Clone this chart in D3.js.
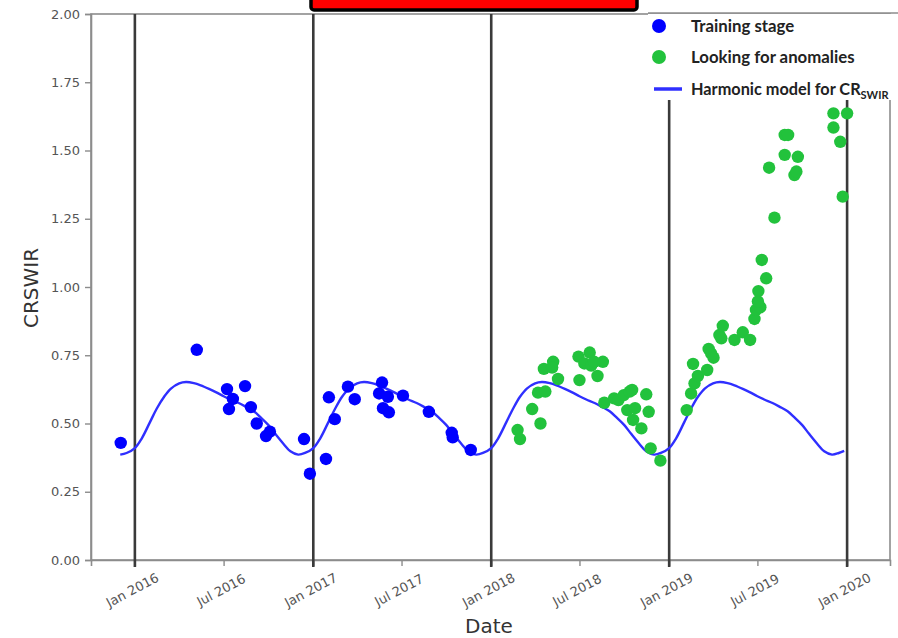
<!DOCTYPE html>
<html>
<head>
<meta charset="utf-8">
<script src="https://cdn.jsdelivr.net/npm/d3@7"></script>
<style>
  html, body { margin: 0; padding: 0; background: #fff; }
  svg { display: block; }
</style>
</head>
<body>
<svg id="chart" width="898" height="638"></svg>
<script>
// Training-stage observations (date, CRSWIR)
const trainingDates = [
  "2015-12-03", "2016-05-07", "2016-07-08", "2016-08-14", "2016-07-20", "2016-07-12",
  "2016-08-26", "2016-09-07", "2016-10-04", "2016-09-26", "2016-12-13", "2016-12-25",
  "2017-01-27", "2017-02-14", "2017-02-02", "2017-03-13", "2017-03-27", "2017-05-22",
  "2017-05-16", "2017-06-03", "2017-05-24", "2017-06-05", "2017-07-04", "2017-08-26",
  "2017-10-12", "2017-10-14", "2017-11-20"
];
const trainingValues = [
  0.429, 0.770, 0.626, 0.637, 0.590, 0.553,
  0.560, 0.500, 0.470, 0.454, 0.443, 0.316,
  0.370, 0.516, 0.596, 0.635, 0.589, 0.650,
  0.610, 0.598, 0.556, 0.541, 0.602, 0.543,
  0.466, 0.449, 0.403
];

// Observations checked for anomalies
const anomalyDates = [
  "2018-02-24", "2018-03-01", "2018-03-26", "2018-04-12", "2018-04-07", "2018-04-22",
  "2018-04-19", "2018-05-08", "2018-05-06", "2018-05-18", "2018-06-29", "2018-07-22",
  "2018-07-01", "2018-07-11", "2018-07-25", "2018-08-07", "2018-08-18", "2018-07-31",
  "2018-08-21", "2018-09-10", "2018-09-19", "2018-09-30", "2018-10-12", "2018-10-17",
  "2018-11-15", "2018-10-07", "2018-10-23", "2018-11-20", "2018-10-19", "2018-11-05",
  "2018-11-24", "2018-12-14",
  "2019-02-06", "2019-02-15", "2019-02-22", "2019-03-01", "2019-02-19", "2019-03-20",
  "2019-03-23", "2019-03-28", "2019-04-02", "2019-04-14", "2019-04-21", "2019-04-18",
  "2019-05-15", "2019-06-01", "2019-06-16", "2019-06-25", "2019-06-28", "2019-07-07",
  "2019-07-02", "2019-07-03", "2019-07-19", "2019-07-10", "2019-08-05", "2019-07-25",
  "2019-08-26", "2019-09-22", "2019-08-26", "2019-09-02", "2019-09-15", "2019-09-19",
  "2019-12-04", "2020-01-01", "2019-12-04", "2019-12-18", "2019-12-23"
];
const anomalyValues = [
  0.476, 0.443, 0.553, 0.500, 0.613, 0.617,
  0.700, 0.726, 0.705, 0.663, 0.745, 0.760,
  0.659, 0.720, 0.712, 0.674, 0.726, 0.726,
  0.576, 0.592, 0.586, 0.604, 0.617, 0.623,
  0.607, 0.549, 0.556, 0.543, 0.513, 0.482,
  0.409, 0.364,
  0.549, 0.610, 0.647, 0.674, 0.718, 0.696,
  0.773, 0.757, 0.741, 0.824, 0.858, 0.812,
  0.806, 0.834, 0.806, 0.883, 0.916, 0.926,
  0.947, 0.985, 1.032, 1.099, 1.254, 1.437,
  1.484, 1.477, 1.557, 1.557, 1.410, 1.423,
  1.636, 1.636, 1.584, 1.532, 1.331
];

// Fitted harmonic model for CR_SWIR, sampled twice a month
const harmonicDates = [
  "2015-12-02", "2015-12-15",
  "2016-01-01", "2016-01-15", "2016-02-01", "2016-02-15", "2016-03-01", "2016-03-15",
  "2016-04-01", "2016-04-15", "2016-05-01", "2016-05-15", "2016-06-01", "2016-06-15",
  "2016-07-01", "2016-07-15", "2016-08-01", "2016-08-15", "2016-09-01", "2016-09-15",
  "2016-10-01", "2016-10-15", "2016-11-01", "2016-11-15", "2016-12-01", "2016-12-15",
  "2017-01-01", "2017-01-15", "2017-02-01", "2017-02-15", "2017-03-01", "2017-03-15",
  "2017-04-01", "2017-04-15", "2017-05-01", "2017-05-15", "2017-06-01", "2017-06-15",
  "2017-07-01", "2017-07-15", "2017-08-01", "2017-08-15", "2017-09-01", "2017-09-15",
  "2017-10-01", "2017-10-15", "2017-11-01", "2017-11-15", "2017-12-01", "2017-12-15",
  "2018-01-01", "2018-01-15", "2018-02-01", "2018-02-15", "2018-03-01", "2018-03-15",
  "2018-04-01", "2018-04-15", "2018-05-01", "2018-05-15", "2018-06-01", "2018-06-15",
  "2018-07-01", "2018-07-15", "2018-08-01", "2018-08-15", "2018-09-01", "2018-09-15",
  "2018-10-01", "2018-10-15", "2018-11-01", "2018-11-15", "2018-12-01", "2018-12-15",
  "2019-01-01", "2019-01-15", "2019-02-01", "2019-02-15", "2019-03-01", "2019-03-15",
  "2019-04-01", "2019-04-15", "2019-05-01", "2019-05-15", "2019-06-01", "2019-06-15",
  "2019-07-01", "2019-07-15", "2019-08-01", "2019-08-15", "2019-09-01", "2019-09-15",
  "2019-10-01", "2019-10-15", "2019-11-01", "2019-11-15", "2019-12-01", "2019-12-15",
  "2019-12-26"
];
const harmonicValues = [
  0.386, 0.392,
  0.410, 0.445, 0.505, 0.555, 0.598, 0.628, 0.647, 0.652, 0.648, 0.640, 0.627, 0.615,
  0.600, 0.588, 0.575, 0.562, 0.545, 0.522, 0.494, 0.462, 0.425, 0.398, 0.386, 0.392,
  0.410, 0.445, 0.505, 0.555, 0.598, 0.628, 0.647, 0.652, 0.648, 0.640, 0.627, 0.615,
  0.600, 0.588, 0.575, 0.562, 0.545, 0.522, 0.494, 0.462, 0.425, 0.398, 0.386, 0.392,
  0.410, 0.445, 0.505, 0.555, 0.598, 0.628, 0.647, 0.652, 0.648, 0.640, 0.627, 0.615,
  0.600, 0.588, 0.575, 0.562, 0.545, 0.522, 0.494, 0.462, 0.425, 0.398, 0.386, 0.392,
  0.410, 0.445, 0.505, 0.555, 0.598, 0.628, 0.647, 0.652, 0.648, 0.640, 0.627, 0.615,
  0.600, 0.588, 0.575, 0.562, 0.545, 0.522, 0.494, 0.462, 0.425, 0.398, 0.386, 0.392,
  0.400
];

// Axis ticks
const yTicks = [0, 0.25, 0.5, 0.75, 1.0, 1.25, 1.5, 1.75, 2.0];
const xTickDates = [
  "2016-01-01", "2016-07-01", "2017-01-01", "2017-07-01", "2018-01-01",
  "2018-07-01", "2019-01-01", "2019-07-01", "2020-01-01"
];
const yearBoundaries = ["2016-01-01", "2017-01-01", "2018-01-01", "2019-01-01", "2020-01-01"];

const parse = d3.timeParse("%Y-%m-%d");
const svg = d3.select("#chart");

const plot = { left: 91, right: 890, top: 14, bottom: 560 };

const x = d3.scaleTime()
  .domain([parse("2015-10-03"), parse("2020-03-29")])
  .range([plot.left, plot.right]);
const y = d3.scaleLinear().domain([0, 2]).range([plot.bottom, plot.top]);

const training = trainingDates.map((d, i) => ({ date: parse(d), value: trainingValues[i] }));
const anomalies = anomalyDates.map((d, i) => ({ date: parse(d), value: anomalyValues[i] }));
const harmonic = harmonicDates.map((d, i) => ({ date: parse(d), value: harmonicValues[i] }));

// Frame
svg.append("rect")
  .attr("x", plot.left).attr("y", plot.top)
  .attr("width", plot.right - plot.left).attr("height", plot.bottom - plot.top)
  .attr("fill", "none").attr("stroke", "#8c8c8c").attr("stroke-width", 1.6);

// Y axis
const yAxis = svg.append("g")
  .attr("transform", `translate(${plot.left},0)`)
  .call(d3.axisLeft(y).tickValues(yTicks).tickFormat(d3.format(".2f")).tickSize(6).tickPadding(5));
yAxis.select(".domain").attr("stroke", "#8c8c8c").attr("stroke-width", 1.6);
yAxis.selectAll(".tick line").attr("stroke", "#8c8c8c").attr("stroke-width", 1.4);
yAxis.selectAll(".tick text")
  .attr("font-family", "DejaVu Sans, sans-serif").attr("font-size", 13).attr("fill", "#555");

// X axis
const xAxis = svg.append("g")
  .attr("transform", `translate(0,${plot.bottom})`)
  .call(d3.axisBottom(x).tickValues(xTickDates.map(parse)).tickFormat(d3.timeFormat("%b %Y")).tickSize(6));
xAxis.select(".domain").attr("stroke", "#8c8c8c").attr("stroke-width", 1.6);
xAxis.selectAll(".tick line").attr("stroke", "#8c8c8c").attr("stroke-width", 1.4);
xAxis.selectAll(".tick text")
  .attr("font-family", "DejaVu Sans, sans-serif").attr("font-size", 13).attr("fill", "#555")
  .attr("text-anchor", "middle")
  .attr("transform", "translate(-3,30) rotate(-28)")
  .attr("y", 0).attr("dy", "0.35em");

// Year boundary lines
svg.append("g").selectAll("line")
  .data(yearBoundaries.map(parse))
  .join("line")
  .attr("x1", d => x(d)).attr("x2", d => x(d))
  .attr("y1", plot.top).attr("y2", plot.bottom + 7)
  .attr("stroke", "#3a3a3a").attr("stroke-width", 2.6);

// Harmonic model curve
svg.append("path")
  .datum(harmonic)
  .attr("fill", "none")
  .attr("stroke", "#2f2fff")
  .attr("stroke-width", 2.4)
  .attr("d", d3.line().x(d => x(d.date)).y(d => y(d.value)).curve(d3.curveCatmullRom));

// Observations
svg.append("g").selectAll("circle")
  .data(training).join("circle")
  .attr("cx", d => x(d.date)).attr("cy", d => y(d.value)).attr("r", 6.2)
  .attr("fill", "#0000ff");
svg.append("g").selectAll("circle")
  .data(anomalies).join("circle")
  .attr("cx", d => x(d.date)).attr("cy", d => y(d.value)).attr("r", 6.2)
  .attr("fill", "#22c23c");

// Axis titles
svg.append("text")
  .attr("x", 489).attr("y", 633)
  .attr("text-anchor", "middle")
  .attr("font-family", "DejaVu Sans, sans-serif").attr("font-size", 20).attr("fill", "#333")
  .text("Date");
svg.append("text")
  .attr("transform", "translate(38,288) rotate(-90)")
  .attr("text-anchor", "middle")
  .attr("font-family", "DejaVu Sans, sans-serif").attr("font-size", 20).attr("fill", "#333")
  .text("CRSWIR");

// Legend panel
const legend = svg.append("g");
legend.append("rect")
  .attr("x", 648).attr("y", 14).attr("width", 250).attr("height", 86)
  .attr("fill", "#fff");
legend.append("line")
  .attr("x1", 648).attr("x2", 898).attr("y1", 13).attr("y2", 13)
  .attr("stroke", "#8c8c8c").attr("stroke-width", 1.6);
const legendFont = "Lato, 'Open Sans', sans-serif";
legend.append("circle").attr("cx", 659).attr("cy", 26).attr("r", 7).attr("fill", "#0000ff");
legend.append("text").attr("x", 691).attr("y", 32)
  .attr("font-family", legendFont).attr("font-weight", 700).attr("font-size", 16.8).attr("fill", "#222")
  .text("Training stage");
legend.append("circle").attr("cx", 659).attr("cy", 57).attr("r", 7).attr("fill", "#22c23c");
legend.append("text").attr("x", 691).attr("y", 63)
  .attr("font-family", legendFont).attr("font-weight", 700).attr("font-size", 16.8).attr("fill", "#222")
  .text("Looking for anomalies");
legend.append("line")
  .attr("x1", 654).attr("x2", 682).attr("y1", 89).attr("y2", 89)
  .attr("stroke", "#2f2fff").attr("stroke-width", 3.5);
const hm = legend.append("text").attr("x", 691).attr("y", 95)
  .attr("font-family", legendFont).attr("font-weight", 700).attr("font-size", 16.3).attr("fill", "#222");
hm.append("tspan").text("Harmonic model for CR");
hm.append("tspan").attr("font-size", 11).attr("dy", 4).text("SWIR");

// Title banner along the top edge
svg.append("rect")
  .attr("x", 311).attr("y", -20).attr("width", 326).attr("height", 30)
  .attr("rx", 3)
  .attr("fill", "#ff0000").attr("stroke", "#000").attr("stroke-width", 3.5);
</script>
</body>
</html>
